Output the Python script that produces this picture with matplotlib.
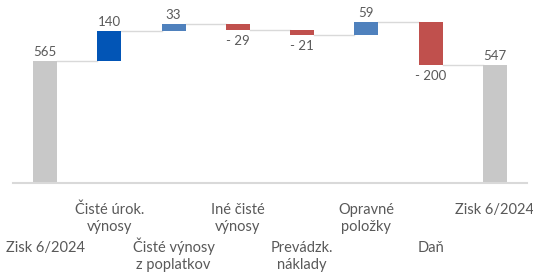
import matplotlib
matplotlib.use("Agg")
import matplotlib.pyplot as plt

categories = [["Zisk 6/2024"], ["Čisté úrok.", "výnosy"], ["Čisté výnosy", "z poplatkov"],
              ["Iné čisté", "výnosy"], ["Prevádzk.", "náklady"], ["Opravné", "položky"],
              ["Daň"], ["Zisk 6/2024"]]
values = [565, 140, 33, -29, -21, 59, -200, 547]
kinds = ["total", "delta", "delta", "delta", "delta", "delta", "delta", "total"]
colors = ["#C8C8C8", "#0255B6", "#4F81BD", "#C0504D", "#C0504D", "#4F81BD", "#C0504D", "#C8C8C8"]

plt.rcParams['font.family'] = ['Lato', 'DejaVu Sans']
fig = plt.figure(figsize=(5.33, 2.73), dpi=100)
ax = fig.add_axes([13/533, 1 - 183/273, 514/533, 183/273])
ax.set_xlim(-0.5, 7.5)
ax.set_ylim(0, 850)
ax.axis('off')

txtc = "#595959"
w = 0.37
level = 0
tops = []
for i, (v, k, c) in enumerate(zip(values, kinds, colors)):
    if k == "total":
        bottom, height = 0, v
        level = v
    else:
        bottom = level if v >= 0 else level + v
        height = abs(v)
        level = level + v
    ax.bar(i, height, bottom=bottom, width=w, color=c, zorder=3)
    top = bottom + height
    if v >= 0:
        ax.annotate(f"{v}", xy=(i, top), xytext=(0, 3), textcoords='offset pixels',
                    ha='center', va='bottom', fontsize=9.5, color=txtc)
    else:
        ax.annotate(f"- {abs(v)}", xy=(i, bottom), xytext=(0, -5), textcoords='offset pixels',
                    ha='center', va='top', fontsize=9.5, color=txtc)
    tops.append(level)

# connectors
for i in range(len(values) - 1):
    ax.plot([i + w/2, i + 1 - w/2], [tops[i], tops[i]], color="#D9D9D9", lw=1, zorder=2)

# axis line
ax.plot([-0.5, 7.5], [0, 0], color="#D9D9D9", lw=1.5, zorder=4, clip_on=False)

# staggered category labels
for i, lines in enumerate(categories):
    base = 214 if i % 2 == 1 else 252
    for j, line in enumerate(lines):
        ypx = base + j * 17.5
        ax.annotate(line, xy=(i, 0), xycoords=('data', 'axes fraction'),
                    xytext=(0, -(ypx - 183)), textcoords='offset pixels',
                    ha='center', va='baseline', fontsize=10.5, color=txtc,
                    annotation_clip=False)

fig.savefig("out.png", dpi=100)
